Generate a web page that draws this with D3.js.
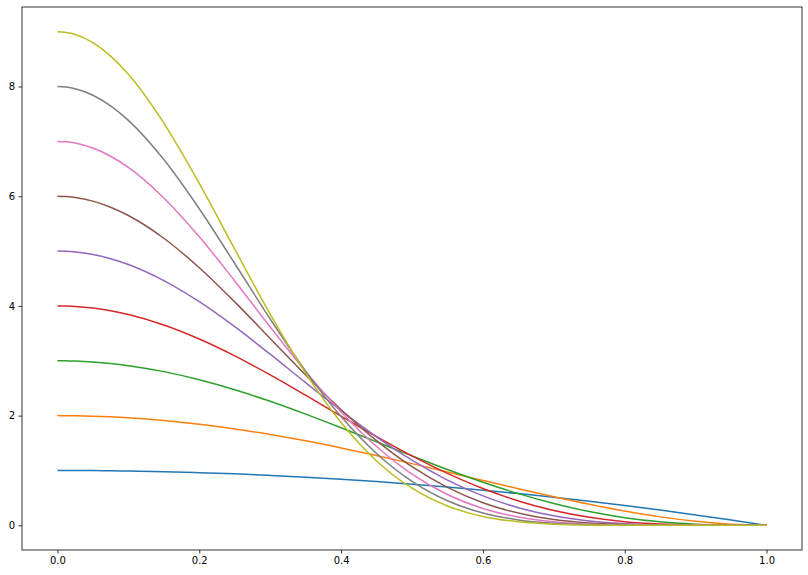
<!DOCTYPE html>
<html><head><meta charset="utf-8">
<script src="https://cdn.jsdelivr.net/npm/d3@7"></script>
<style>body{margin:0;background:#fff;} svg{display:block;}</style>
</head><body>
<script>
const xs = [0,0.0125,0.025,0.05,0.075,0.10,0.15,0.20,0.25,0.30,0.35,0.40,0.45,0.50,0.55,0.60,0.65,0.70,0.75,0.80,0.85,0.90,0.95,1.00];
const s1 = [1,0.9998,0.9994,0.998,0.994,0.99,0.978,0.96,0.938,0.91,0.878,0.84,0.798,0.75,0.698,0.64,0.578,0.51,0.438,0.36,0.278,0.19,0.098,0];
const s2 = [2,1.9994,1.9975,1.990,1.978,1.960,1.911,1.843,1.758,1.656,1.540,1.411,1.272,1.125,0.973,0.819,0.667,0.520,0.383,0.259,0.154,0.072,0.019,0];
const s3 = [3,2.9986,2.9944,2.978,2.950,2.911,2.802,2.654,2.472,2.261,2.027,1.778,1.522,1.266,1.018,0.786,0.578,0.398,0.251,0.140,0.064,0.021,0.003,0];
const s4 = [4,3.9975,3.990,3.960,3.911,3.842,3.652,3.397,3.090,2.743,2.372,1.991,1.618,1.266,0.947,0.671,0.445,0.271,0.147,0.067,0.024,0.005,0.000,0];
const s5 = [5,4.996,4.984,4.938,4.861,4.755,4.462,4.077,3.621,3.120,2.601,2.091,1.613,1.187,0.825,0.537,0.321,0.173,0.080,0.030,0.008,0.001,0,0];
const s6 = [6,5.994,5.978,5.911,5.800,5.649,5.234,4.697,4.074,3.407,2.739,2.108,1.544,1.068,0.691,0.412,0.223,0.106,0.042,0.013,0.003,0,0,0];
const s7 = [7,6.992,6.969,6.878,6.729,6.525,5.969,5.260,4.456,3.617,2.804,2.066,1.436,0.934,0.562,0.308,0.150,0.063,0.021,0.005,0.001,0,0,0];
const s8 = [8,7.990,7.960,7.841,7.647,7.382,6.668,5.771,4.774,3.762,2.812,1.983,1.309,0.801,0.448,0.225,0.099,0.037,0.011,0.002,0,0,0,0];
const s9 = [9,8.987,8.950,8.799,8.554,8.222,7.333,6.233,5.035,3.851,2.776,1.874,1.174,0.676,0.352,0.162,0.064,0.021,0.005,0.001,0,0,0,0];
const seriesList = [s1,s2,s3,s4,s5,s6,s7,s8,s9];
const colors = ["#1f77b4","#ff7f0e","#2ca02c","#d62728","#9467bd","#8c564b","#e377c2","#7f7f7f","#bcbd22"];
const xTicks = [0,0.2,0.4,0.6,0.8,1.0];
const yTicks = [0,2,4,6,8];

const W = 808, H = 575;
const m = {left:22, right:6, top:7, bottom:25};
const svg = d3.select("body").append("svg").attr("width",W).attr("height",H);
const x = d3.scaleLinear().domain([-0.05,1.05]).range([m.left, W-m.right]);
const y = d3.scaleLinear().domain([-0.45,9.45]).range([H-m.bottom, m.top]);

const line = d3.line().x((d,i)=>x(xs[i])).y(d=>y(d)).curve(d3.curveMonotoneX);
svg.append("g").selectAll("path").data(seriesList).join("path")
  .attr("d", d=>line(d)).attr("fill","none")
  .attr("stroke",(d,i)=>colors[i]).attr("stroke-width",1.5);

const fmt = d => d.toFixed(1);
const xa = svg.append("g").attr("transform",`translate(0,${H-m.bottom})`)
  .call(d3.axisBottom(x).tickValues(xTicks).tickFormat(fmt).tickSize(3.5).tickPadding(3.5));
const ya = svg.append("g").attr("transform",`translate(${m.left},0)`)
  .call(d3.axisLeft(y).tickValues(yTicks).tickFormat(d3.format("d")).tickSize(3.5).tickPadding(3.5));
[xa,ya].forEach(a=>{
  a.select(".domain").remove();
  a.selectAll("text").attr("font-family","DejaVu Sans").attr("font-size",10).attr("fill","#000");
  a.selectAll("line").attr("stroke","#000").attr("stroke-width",0.8);
});
svg.append("rect").attr("x",m.left).attr("y",m.top)
  .attr("width",W-m.left-m.right).attr("height",H-m.top-m.bottom)
  .attr("fill","none").attr("stroke","#000").attr("stroke-width",0.8);
</script>
</body></html>
